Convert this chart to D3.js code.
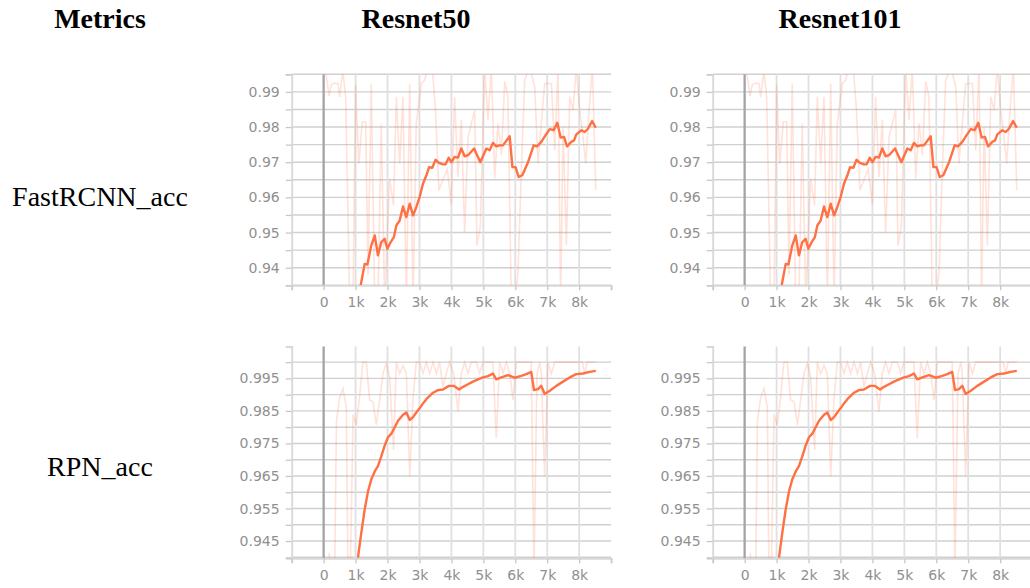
<!DOCTYPE html>
<html>
<head>
<meta charset="utf-8">
<script src="https://cdn.jsdelivr.net/npm/d3@7"></script>
<style>
  body { margin: 0; background: #fff; }
  svg { display: block; }
</style>
</head>
<body>
<svg id="chart" width="1030" height="588"></svg>
<script>
// headers
const columnTitles = ["Metrics", "Resnet50", "Resnet101"];
const rowTitles = ["FastRCNN_acc", "RPN_acc"];

// shared x axis (training steps)
const xTicks = [-1000, 0, 1000, 2000, 3000, 4000, 5000, 6000, 7000, 8000, 9000];
const xTickLabels = ["", "0", "1k", "2k", "3k", "4k", "5k", "6k", "7k", "8k", ""];

// FastRCNN_acc, smoothed curve
const fastSmoothSteps = [1160, 1285, 1370, 1490, 1600, 1700, 1805, 1910, 1995, 2100, 2200, 2275, 2380, 2485, 2590, 2695, 2800, 2900, 3005, 3110, 3215, 3300, 3400, 3505, 3610, 3735, 3820, 3915, 4000, 4100, 4205, 4310, 4415, 4520, 4710, 4905, 5095, 5200, 5300, 5405, 5510, 5615, 5825, 5910, 6010, 6105, 6220, 6400, 6575, 6680, 6815, 6950, 7080, 7200, 7315, 7420, 7525, 7620, 7755, 7840, 7910, 8070, 8175, 8280, 8405, 8520];
const fastSmooth = [0.935, 0.9411, 0.9409, 0.9463, 0.9492, 0.9435, 0.9473, 0.9482, 0.9454, 0.9473, 0.9487, 0.952, 0.9534, 0.9574, 0.9544, 0.9582, 0.9549, 0.9572, 0.9601, 0.9639, 0.9662, 0.9686, 0.9684, 0.9707, 0.9698, 0.9694, 0.9694, 0.9713, 0.970, 0.9715, 0.9713, 0.9739, 0.9717, 0.972, 0.9739, 0.970, 0.9739, 0.9734, 0.9755, 0.9745, 0.9748, 0.9748, 0.9774, 0.9686, 0.9686, 0.9658, 0.9663, 0.970, 0.9748, 0.9745, 0.9758, 0.9777, 0.9794, 0.9791, 0.9812, 0.977, 0.9772, 0.9745, 0.9758, 0.9762, 0.9779, 0.9791, 0.9786, 0.9796, 0.9817, 0.9798];

// FastRCNN_acc, raw values
const fastRawSteps = [30, 170, 240, 340, 450, 500, 600, 690, 815, 920, 1000, 1100, 1210, 1315, 1390, 1490, 1600, 1700, 1805, 1910, 2065, 2190, 2275, 2380, 2485, 2590, 2695, 2800, 2900, 3060, 3160, 3265, 3400, 3500, 3610, 3735, 3870, 4000, 4100, 4205, 4310, 4415, 4520, 4730, 4800, 4905, 5040, 5145, 5250, 5355, 5460, 5565, 5670, 5770, 5875, 5980, 6085, 6190, 6295, 6450, 6610, 6710, 6920, 7130, 7235, 7340, 7420, 7495, 7600, 7705, 7810, 7910, 8015, 8110, 8205, 8310, 8415, 8520];
const fastRaw = [0.998, 0.9888, 0.992, 0.9925, 0.9924, 0.9886, 0.996, 0.9886, 0.93, 0.93, 0.992, 0.9696, 0.9815, 0.9815, 0.938, 0.9924, 0.93, 0.93, 0.981, 0.93, 0.9653, 0.9577, 0.9886, 0.9696, 0.9886, 0.93, 0.9924, 0.93, 0.981, 0.9924, 0.9933, 0.997, 0.997, 0.985, 0.962, 0.965, 0.968, 0.958, 0.9886, 0.9658, 0.982, 0.950, 0.9772, 0.9848, 0.9463, 0.9515, 0.997, 0.982, 0.997, 0.9653, 0.981, 0.972, 0.993, 0.9886, 0.93, 0.93, 0.9387, 0.9677, 0.9933, 0.997, 0.9914, 0.9696, 0.9924, 0.9924, 0.9734, 0.997, 0.93, 0.980, 0.9463, 0.9886, 0.9848, 0.997, 0.9848, 0.978, 0.9696, 0.9848, 0.997, 0.962];

// RPN_acc, smoothed curve
const rpnSmoothSteps = [1075, 1180, 1285, 1390, 1490, 1600, 1700, 1805, 1910, 2015, 2120, 2225, 2330, 2485, 2590, 2695, 2800, 2900, 3005, 3110, 3215, 3320, 3425, 3580, 3735, 3925, 4070, 4240, 4365, 4520, 4675, 4835, 4990, 5145, 5300, 5405, 5565, 5770, 5980, 6190, 6345, 6500, 6585, 6710, 6815, 6920, 7080, 7285, 7495, 7705, 7910, 8120, 8330, 8520];
const rpnSmooth = [0.9399, 0.9476, 0.9547, 0.9603, 0.9639, 0.9664, 0.968, 0.971, 0.9743, 0.9769, 0.978, 0.980, 0.982, 0.9838, 0.9845, 0.9822, 0.9831, 0.9845, 0.9858, 0.9873, 0.9886, 0.9896, 0.9906, 0.9914, 0.9916, 0.9927, 0.9927, 0.9916, 0.9924, 0.9932, 0.994, 0.9947, 0.9953, 0.9957, 0.9965, 0.9947, 0.9953, 0.996, 0.9952, 0.9958, 0.9963, 0.997, 0.9914, 0.9917, 0.9927, 0.9902, 0.9912, 0.9927, 0.994, 0.9953, 0.9963, 0.9965, 0.997, 0.9973];

// RPN_acc, raw values
const rpnRawSteps = [170, 240, 345, 400, 500, 605, 710, 760, 835, 920, 1025, 1130, 1230, 1335, 1440, 1545, 1650, 1755, 1860, 1960, 2065, 2190, 2275, 2380, 2485, 2590, 2695, 2800, 2900, 3005, 3110, 3215, 3320, 3425, 3530, 3630, 3735, 3840, 3945, 4070, 4205, 4310, 4415, 4520, 4625, 4780, 4885, 4990, 5145, 5300, 5405, 5510, 5615, 5720, 5825, 5930, 6035, 6240, 6400, 6500, 6585, 6680, 6765, 6815, 6920, 7025, 7130, 7235, 7500, 7800, 8100, 8175, 8250, 8520];
const rpnRaw = [0.9414, 0.935, 0.935, 0.9817, 0.9889, 0.9919, 0.9863, 0.935, 0.935, 0.9838, 0.9807, 0.9899, 1.0, 1.0, 0.9884, 0.9879, 0.9807, 0.9884, 0.9965, 0.9996, 0.9955, 0.973, 1.0, 0.9965, 0.999, 0.9965, 0.9649, 0.9889, 1.0, 1.0, 0.9965, 1.0, 0.9965, 1.0, 0.9965, 1.0, 0.9924, 0.9965, 1.0, 0.9965, 0.9848, 0.9965, 1.0, 0.9965, 1.0, 1.0, 0.9965, 1.0, 1.0, 1.0, 0.9766, 1.0, 0.9965, 1.0, 0.9965, 0.9884, 1.0, 1.0, 1.0, 1.0, 0.935, 0.9965, 1.0, 0.9965, 0.9649, 1.0, 0.9965, 1.0, 1.0, 1.0, 1.0, 0.9965, 1.0, 1.0];

// y axes
const fastYDomain = [0.935, 0.995];
const fastYTicks = [0.935, 0.94, 0.945, 0.95, 0.955, 0.96, 0.965, 0.97, 0.975, 0.98, 0.985, 0.99, 0.995];
const fastYLabels = [0.94, 0.95, 0.96, 0.97, 0.98, 0.99];
const rpnYDomain = [0.9397, 1.0048];
const rpnYTicks = [0.94, 0.945, 0.95, 0.955, 0.96, 0.965, 0.97, 0.975, 0.98, 0.985, 0.99, 0.995, 1.0];
const rpnYLabels = [0.945, 0.955, 0.965, 0.975, 0.985, 0.995];

const svg = d3.select("#chart");
svg.append("rect").attr("width", 1030).attr("height", 588).attr("fill", "#fff");

const ORANGE = "#ff7043";
const panelWidth = 319.4;
const panelHeight = 211;

function drawPanel(id, left, top, height, cfg) {
  const x = d3.scaleLinear().domain([-1000, 9000]).range([0, panelWidth]);
  const y = d3.scaleLinear().domain(cfg.yDomain).range([height, 0]);
  const g = svg.append("g").attr("transform", `translate(${left},${top})`);

  g.append("clipPath").attr("id", id)
    .append("rect").attr("width", panelWidth).attr("height", height);

  // horizontal grid
  g.append("g").selectAll("line").data(cfg.yTicks).enter().append("line")
    .attr("x1", 0).attr("x2", panelWidth)
    .attr("y1", d => y(d)).attr("y2", d => y(d))
    .attr("stroke", "#d0d0d0").attr("stroke-width", 1.4);

  // vertical grid
  g.append("g").selectAll("line").data(xTicks.slice(1, -1)).enter().append("line")
    .attr("x1", d => x(d)).attr("x2", d => x(d))
    .attr("y1", 0).attr("y2", height)
    .attr("stroke", d => d === 0 ? "#a4a4a4" : "#e0e0e0")
    .attr("stroke-width", d => d === 0 ? 2.3 : 1.8);

  const fmt = d3.format(cfg.fmt);
  const yAxis = g.append("g")
    .call(d3.axisLeft(y).tickValues(cfg.yTicks).tickSize(6).tickPadding(6)
      .tickFormat(d => cfg.yLabels.some(v => Math.abs(v - d) < 1e-9) ? fmt(d) : ""));
  const xAxis = g.append("g").attr("transform", `translate(0,${height})`)
    .call(d3.axisBottom(x).tickValues(xTicks).tickSize(5).tickPadding(7)
      .tickFormat((d, i) => xTickLabels[i]));

  [yAxis, xAxis].forEach(a => {
    a.select(".domain").attr("stroke", "#d8d8d8").attr("stroke-width", 1.8);
    a.selectAll(".tick line").attr("stroke", "#c8c8c8").attr("stroke-width", 1.3);
    a.selectAll("text").attr("fill", "#909090").attr("font-size", 14)
      .attr("font-family", "DejaVu Sans, sans-serif");
  });

  const line = d3.line().x(d => x(d[0])).y(d => y(d[1]));
  const plot = g.append("g").attr("clip-path", `url(#${id})`);

  plot.append("path")
    .datum(d3.zip(cfg.rawSteps, cfg.raw))
    .attr("d", line)
    .attr("fill", "none").attr("stroke", ORANGE)
    .attr("stroke-opacity", 0.2).attr("stroke-width", 1.6);

  plot.append("path")
    .datum(d3.zip(cfg.smoothSteps, cfg.smooth))
    .attr("d", line)
    .attr("fill", "none").attr("stroke", ORANGE)
    .attr("stroke-width", 2.4).attr("stroke-linejoin", "round");
}

const fastCfg = { yDomain: fastYDomain, yTicks: fastYTicks, yLabels: fastYLabels, fmt: ".2f",
  smoothSteps: fastSmoothSteps, smooth: fastSmooth, rawSteps: fastRawSteps, raw: fastRaw };
const rpnCfg = { yDomain: rpnYDomain, yTicks: rpnYTicks, yLabels: rpnYLabels, fmt: ".3f",
  smoothSteps: rpnSmoothSteps, smooth: rpnSmooth, rawSteps: rpnRawSteps, raw: rpnRaw };

drawPanel("c1", 291.7, 74.3, panelHeight, fastCfg);
drawPanel("c2", 712.7, 74.3, panelHeight, fastCfg);
drawPanel("c3", 291.7, 346.5, 211.8, rpnCfg);
drawPanel("c4", 712.7, 346.5, 211.8, rpnCfg);

// titles
const titleX = [100, 416, 840];
svg.append("g").selectAll("text").data(columnTitles).enter().append("text")
  .attr("x", (d, i) => titleX[i]).attr("y", 28)
  .attr("text-anchor", "middle")
  .attr("font-family", "Liberation Serif, Times New Roman, serif")
  .attr("font-weight", "bold").attr("font-size", 28)
  .text(d => d);

const rowY = [206, 476];
svg.append("g").selectAll("text").data(rowTitles).enter().append("text")
  .attr("x", 100).attr("y", (d, i) => rowY[i])
  .attr("text-anchor", "middle")
  .attr("font-family", "Liberation Serif, Times New Roman, serif")
  .attr("font-size", 28)
  .text(d => d);
</script>
</body>
</html>
